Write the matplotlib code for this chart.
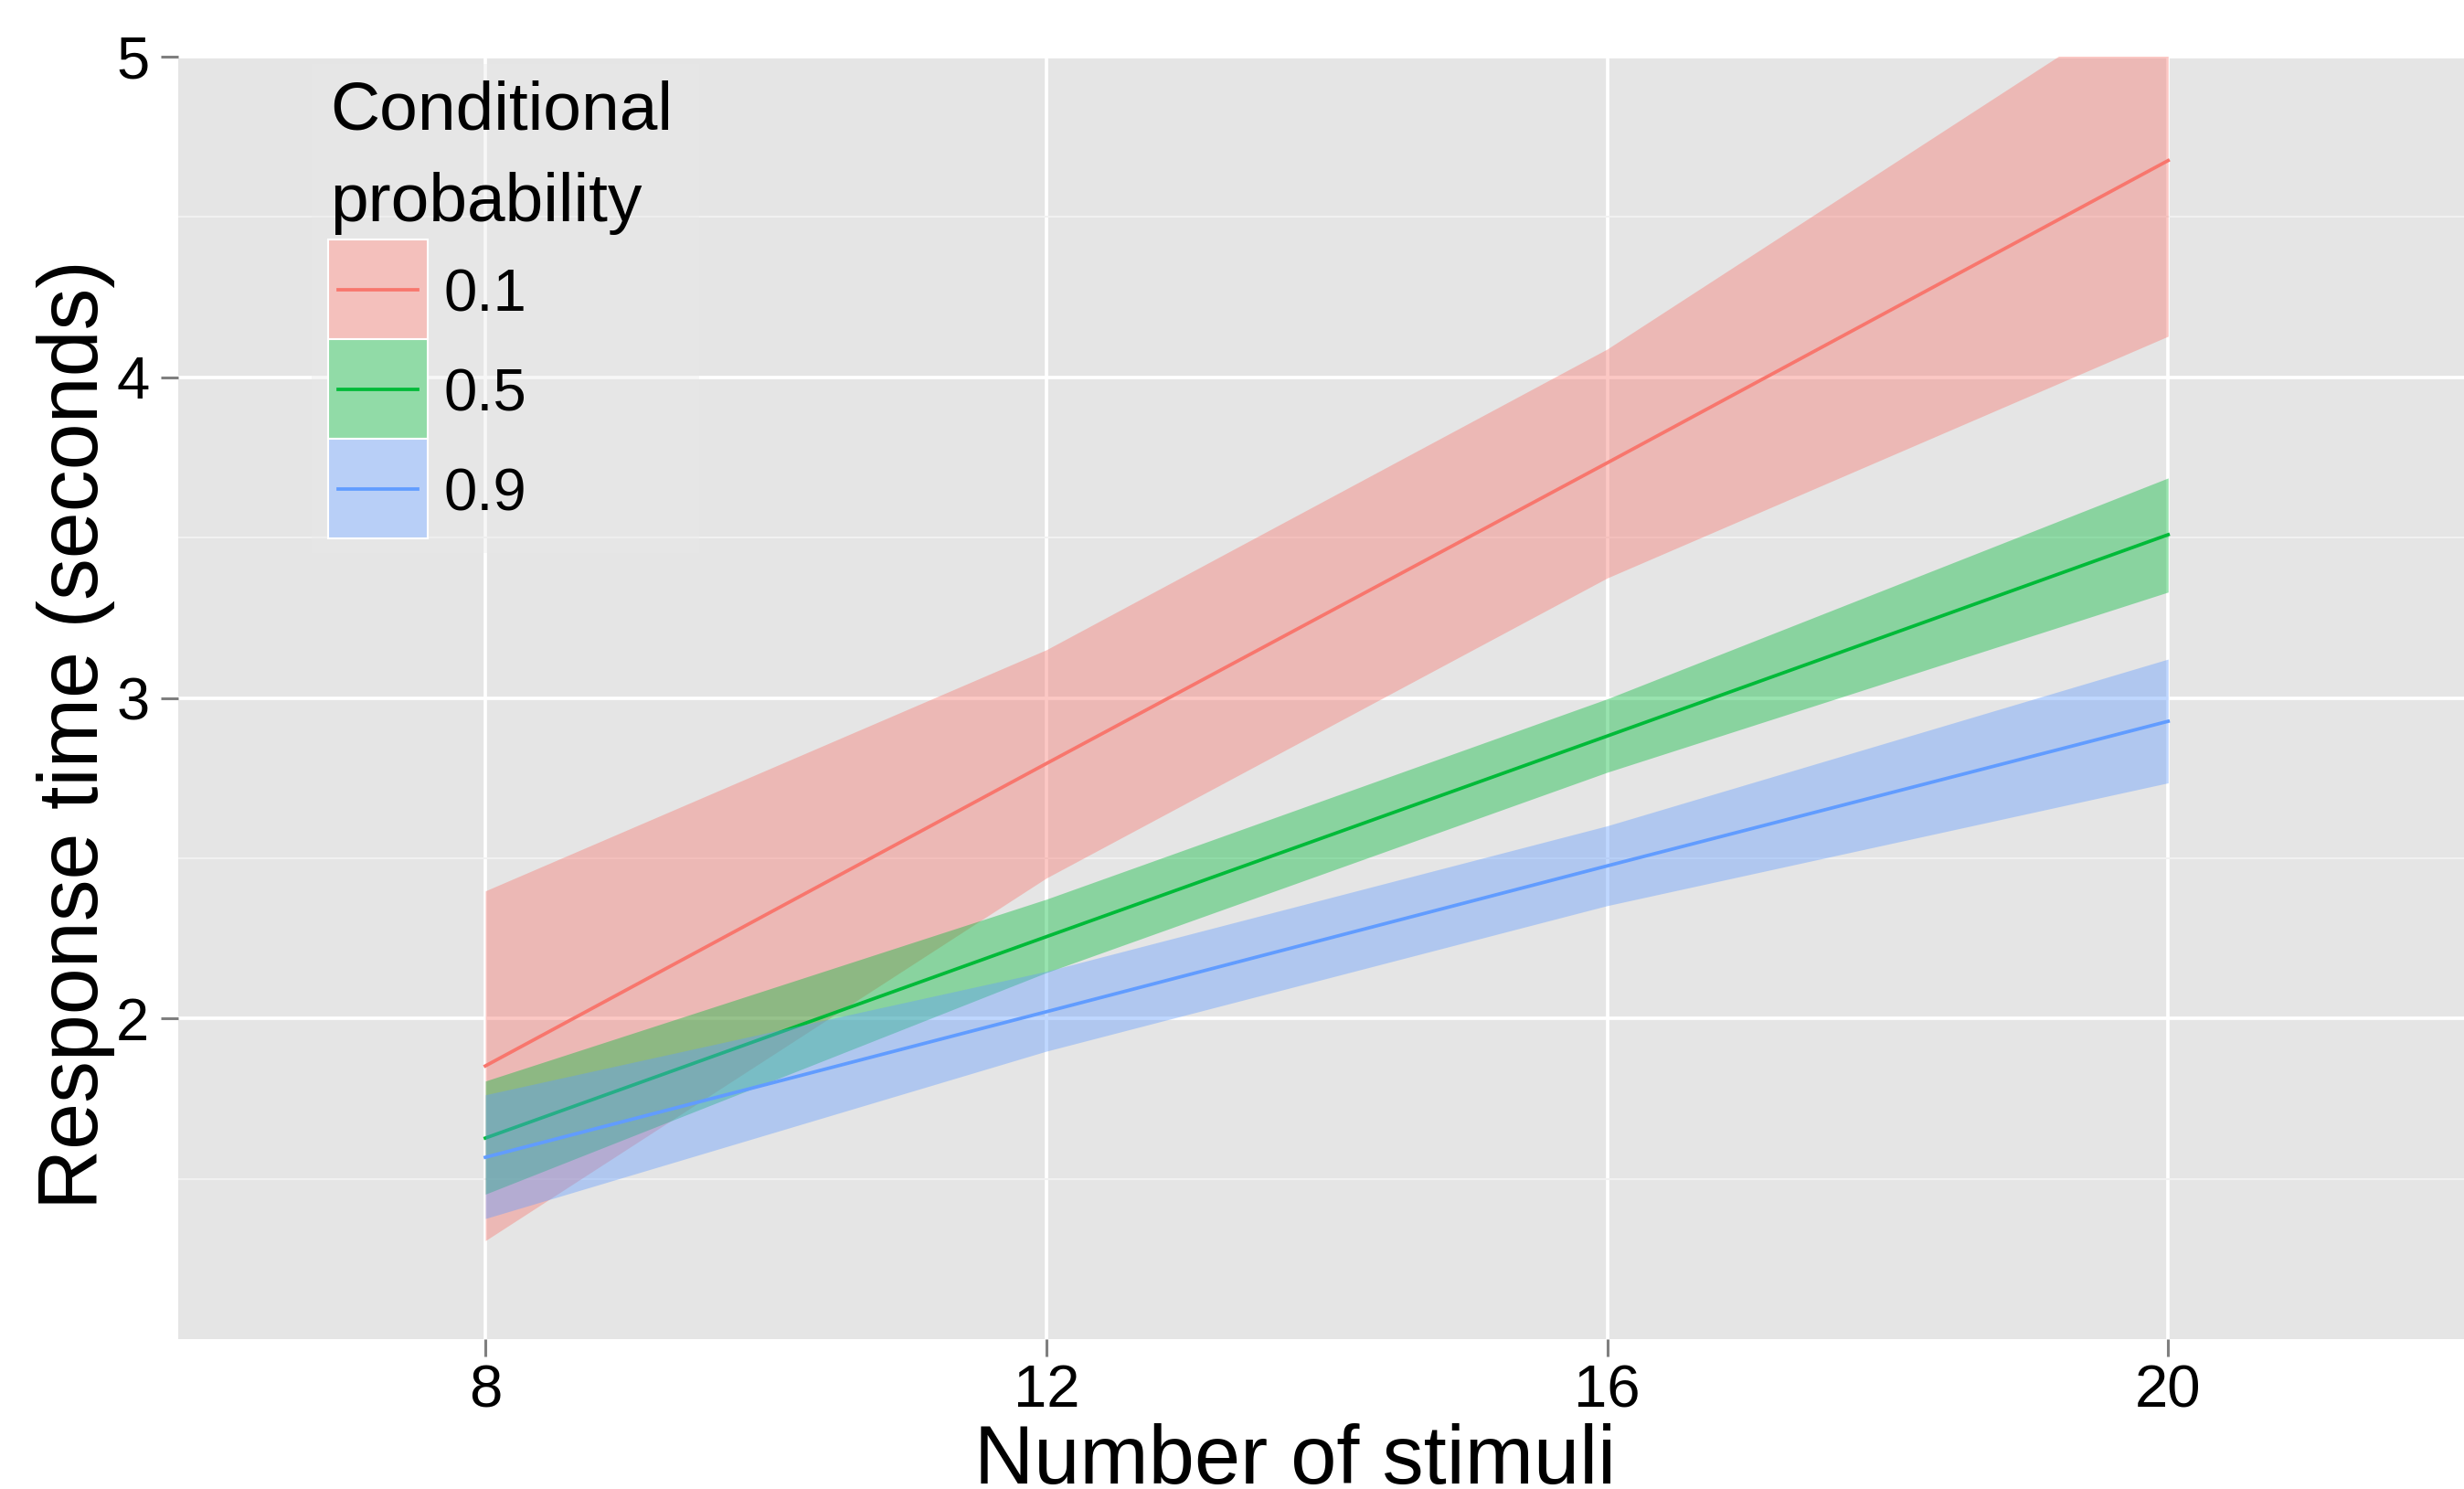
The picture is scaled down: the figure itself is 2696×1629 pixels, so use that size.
import matplotlib.pyplot as plt
from matplotlib.patches import Rectangle
from matplotlib.lines import Line2D

plt.rcParams['font.family'] = ['Liberation Sans', 'DejaVu Sans']

# Data: fitted response time and confidence band per conditional probability
stimuli = [8, 12, 16, 20]
groups = ['0.1', '0.5', '0.9']
colors = ['#F8766D', '#00BA38', '#619CFF']

fit_01 = [1.852, 2.795, 3.733, 4.676]
low_01 = [1.307, 2.438, 3.374, 4.128]
high_01 = [2.398, 3.150, 4.088, 5.223]

fit_05 = [1.627, 2.255, 2.881, 3.509]
low_05 = [1.452, 2.143, 2.768, 3.330]
high_05 = [1.805, 2.372, 2.997, 3.686]

fit_09 = [1.567, 2.021, 2.476, 2.927]
low_09 = [1.376, 1.898, 2.352, 2.735]
high_09 = [1.762, 2.147, 2.601, 3.121]

fits = [fit_01, fit_05, fit_09]
lows = [low_01, low_05, low_09]
highs = [high_01, high_05, high_09]

W, H = 2696, 1629
fig = plt.figure(figsize=(W / 100, H / 100), dpi=100)
ax = fig.add_axes([195 / W, 164 / H, 1 - 195 / W, 1403 / H])
ax.set_facecolor('#E5E5E5')

# ribbon + line for each group, drawn in order like geom_smooth
z = 2
for fit, lo, hi, c in zip(fits, lows, highs, colors):
    ax.fill_between(stimuli, lo, hi, color=c, alpha=0.4, linewidth=0, zorder=z)
    ax.plot(stimuli, fit, color=c, linewidth=2.7, zorder=z + 1)
    z += 2

ax.set_xlim(5.81, 22.11)
ax.set_ylim(1, 5)
ax.set_xticks(stimuli)
ax.set_yticks([2, 3, 4, 5])
ax.set_yticks([1.5, 2.5, 3.5, 4.5], minor=True)
ax.grid(which='major', color='white', linewidth=2.7)
ax.grid(which='minor', axis='y', color='#F2F2F2', linewidth=1.35)
ax.set_axisbelow(True)
for s in ax.spines.values():
    s.set_visible(False)
ax.tick_params(which='major', length=13.7, width=2.2, color='#7F7F7F',
               labelsize=47, labelcolor='black')
ax.tick_params(which='minor', length=0)
ax.tick_params(axis='x', pad=6)
ax.tick_params(axis='y', pad=9)

ax.set_xlabel('Number of stimuli', fontsize=65)
ax.xaxis.label.set_va('baseline')
ax.xaxis.set_label_coords((1417 - 195) / (W - 195), -(1623 - 1465) / 1403)
ax.set_ylabel('Response time (seconds)', fontsize=66)
ax.yaxis.label.set_va('baseline')
ax.yaxis.set_label_coords((107 - 195) / (W - 195), (1465 - 804) / 1403)


# legend drawn by hand (pixel positions from top-left)
def fx(px):
    return px / W


def fy(py):
    return 1 - py / H


tf = fig.transFigure
fig.add_artist(Rectangle((fx(341), fy(605)), (765 - 341) / W, (605 - 70) / H,
                         facecolor='#E9E9E9', alpha=0.35, edgecolor='none',
                         transform=tf))
fig.text(fx(361), fy(142), 'Conditional', fontsize=54, va='baseline')
fig.text(fx(361), fy(242), 'probability', fontsize=54, va='baseline')

key = 109
for i, (g, c) in enumerate(zip(groups, colors)):
    top = 262 + i * key
    mid = top + key / 2
    fig.add_artist(Rectangle((fx(359), fy(top + key)), key / W, key / H,
                             facecolor='#F2F2F2', edgecolor='none', transform=tf))
    fig.add_artist(Rectangle((fx(359), fy(top + key)), key / W, key / H,
                             facecolor=c, alpha=0.4, edgecolor='none', transform=tf))
    fig.add_artist(Rectangle((fx(359), fy(top + key)), key / W, key / H,
                             facecolor='none', edgecolor='white', linewidth=1.5,
                             transform=tf))
    fig.add_artist(Line2D([fx(370), fx(457)], [fy(mid), fy(mid)], color=c,
                          linewidth=2.7, transform=tf))
    fig.text(fx(485), fy(mid + 24), g, fontsize=47, va='baseline')

fig.savefig('out.png', dpi=100)
